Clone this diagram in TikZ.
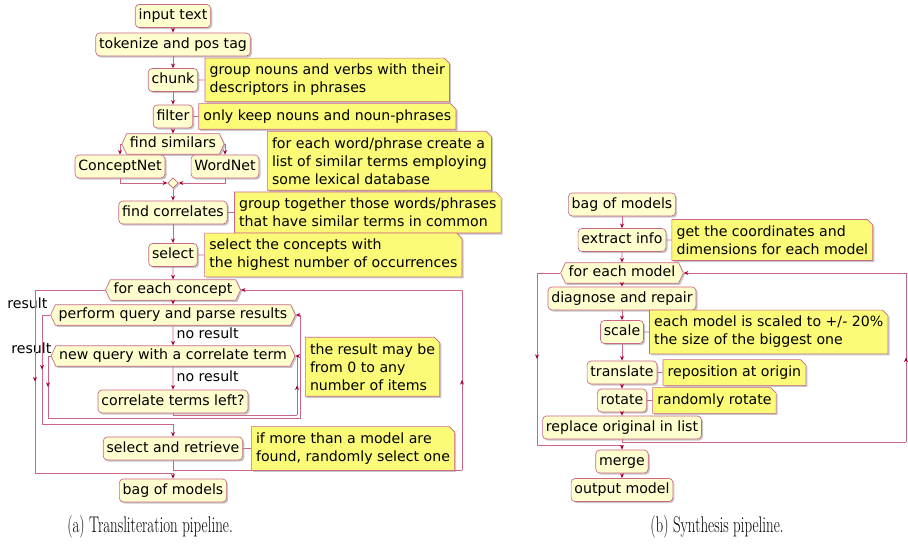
\documentclass[tikz,border=0pt]{standalone}
\usepackage{fontspec}
\usetikzlibrary{shapes.misc,shapes.symbols,shapes.geometric,shadows,positioning,arrows.meta,decorations.markings}
\newfontfamily\umlfont{DejaVu Sans}
\definecolor{umlred}{HTML}{A80036}
\definecolor{umlfill}{HTML}{FEFECE}
\definecolor{notefill}{HTML}{FBFB77}
\colorlet{umlline}{umlred!60}
\tikzset{
  umlshadow/.style={drop shadow={shadow xshift=1.2pt, shadow yshift=-1.2pt, fill=black, opacity=0.22}},
  act/.style={draw=umlline, fill=umlfill, rounded corners=3pt, line width=0.5pt,
    font=\umlfont\fontsize{10.6}{12}\selectfont, text height=8pt, text depth=2.3pt,
    inner xsep=2.5pt, inner ysep=3.5pt, umlshadow},
  hexa/.style={act, sharp corners, shape=signal, signal to=west and east,
    signal pointer angle=130, inner ysep=2.5pt},
  merge/.style={diamond, draw=umlline, fill=umlfill, line width=0.5pt, minimum size=8pt, inner sep=0pt, umlshadow},
  note/.style={chamfered rectangle, chamfered rectangle corners=north east,
    chamfered rectangle xsep=2pt, chamfered rectangle ysep=2pt,
    draw=umlline, fill=notefill, line width=0.5pt, align=left,
    font=\umlfont\fontsize{10.6}{13.5}\selectfont, inner xsep=1.5pt, inner ysep=2.5pt, umlshadow},
  lbl/.style={font=\umlfont\fontsize{10.6}{12}\selectfont, inner sep=1pt},
  flow/.style={draw=umlline, line width=0.5pt},
  arr/.style={flow, -{Stealth[length=3.5pt,width=3pt,color=umlred]}},
  midarrow/.style={flow, postaction={decorate}, decoration={markings,
    mark=at position 0.5 with {\arrow{Stealth[length=3.5pt,width=3pt,color=umlred]}}}},
  caption/.style={font=\fontsize{17}{19}\selectfont, xscale=0.66, transform shape}
}
\begin{document}
\begin{tikzpicture}[x=0.75pt, y=-0.75pt]
\useasboundingbox (0,0) rectangle (908,548);
% (a) Transliteration pipeline
\node[act] (input) at (173,16) {input text};
\node[act] (token) at (173,44.5) {tokenize and pos tag};
\node[act] (chunk) at (173,80) {chunk};
\node[note, right=5pt of chunk] (nchunk) {group nouns and verbs with their\\descriptors in phrases};
\node[act] (filter) at (173,116.5) {filter};
\node[note, right=4pt of filter] (nfilter) {only keep nouns and noun-phrases};
\node[hexa] (simil) at (173,144) {find similars};
\node[act] (cnet) at (120,166.5) {ConceptNet};
\node[act] (wnet) at (225,166.5) {WordNet};
\node[merge] (join) at (173,183) {};
\node[note, anchor=north west] (nsimil) at (267,131) {for each word/phrase create a\\list of similar terms employing\\some lexical database};
\node[act] (correl) at (173,212.5) {find correlates};
\node[note, right=5pt of correl] (ncorrel) {group together those words/phrases\\that have similar terms in common};
\node[act] (select) at (173,255) {select};
\node[note, right=5pt of select] (nselect) {select the concepts with\\the highest number of occurrences};
\node[hexa] (concept) at (173,290) {for each concept};
\node[hexa] (query) at (173,315) {perform query and parse results};
\node[hexa] (newq) at (173,356) {new query with a correlate term};
\node[act] (left) at (173,401.5) {correlate terms left?};
\node[note, anchor=north west] (nresult) at (305,337) {the result may be\\from 0 to any\\number of items};
\node[act] (retrieve) at (173,448.5) {select and retrieve};
\node[note, right=6pt of retrieve] (nretrieve) {if more than a model are\\found, randomly select one};
\node[act] (bagA) at (173,490.5) {bag of models};
\node[lbl, anchor=east] (res1) at (49,303) {result};
\node[lbl, anchor=east] (res2) at (53,348) {result};
\node[lbl, anchor=west] (nores1) at (175,333) {no result};
\node[lbl, anchor=west] (nores2) at (175,376) {no result};

\draw[arr] (input) -- (token);
\draw[arr] (token) -- (chunk);
\draw[arr] (chunk) -- (filter);
\draw[arr] (filter) -- (simil);
\draw[arr] (simil.west) -| (cnet.north);
\draw[arr] (simil.east) -| (wnet.north);
\draw[arr] (cnet.south) |- (join.west);
\draw[arr] (wnet.south) |- (join.east);
\draw[arr] (join) -- (correl);
\draw[arr] (correl) -- (select);
\draw[arr] (select) -- (concept);
\draw[arr] (concept) -- (query);
\draw[arr] (query) -- (newq);
\draw[arr] (newq) -- (left);
\draw[flow] (chunk) -- (nchunk);
\draw[flow] (filter) -- (nfilter);
\draw[flow] (correl) -- (ncorrel);
\draw[flow] (select) -- (nselect);
\draw[flow] (retrieve) -- (nretrieve);
% loops
\coordinate (oL1) at (35,290);
\coordinate (oL2) at (35,473);
\coordinate (oR1) at (462,470);
\coordinate (oR2) at (462,290);
\draw[flow] (concept.west) -- (oL1);
\draw[midarrow] (oL1) -- (oL2);
\draw[arr] (oL2) -| (bagA.north);
\draw[flow] (retrieve.south) |- (oR1);
\draw[midarrow] (oR1) -- (oR2);
\draw[arr] (oR2) -- (concept.east);
\coordinate (qL1) at (42,315);
\coordinate (qL2) at (42,424);
\draw[flow] (query.west) -- (qL1);
\draw[midarrow] (qL1) -- (qL2);
\draw[arr] (qL2) -| (retrieve.north);
\coordinate (nL1) at (48,356);
\coordinate (nL2) at (48,418);
\coordinate (nR1) at (300,418);
\coordinate (nR2) at (300,315);
\draw[flow] (newq.west) -- (nL1);
\draw[midarrow] (nL1) -- (nL2);
\draw[flow] (nL2) -- (nR1) -- (nR2);
\draw[arr] (nR2) -- (query.east);
\coordinate (lR1) at (297,415);
\coordinate (lR2) at (297,356);
\draw[flow] (left.south) |- (lR1);
\draw[midarrow] (lR1) -- (lR2);
\draw[arr] (lR2) -- (newq.east);

% (b) Synthesis pipeline
\node[act] (bagB) at (622,204.5) {bag of models};
\node[act] (extract) at (622,240) {extract info};
\node[note, right=4pt of extract] (nextract) {get the coordinates and\\dimensions for each model};
\node[hexa] (model) at (622,273) {for each model};
\node[act] (repair) at (622,298.5) {diagnose and repair};
\node[act] (scale) at (622,332) {scale};
\node[note, right=4pt of scale] (nscale) {each model is scaled to +/- 20\%\\the size of the biggest one};
\node[act] (transl) at (622,372.5) {translate};
\node[note, right=4pt of transl] (ntransl) {reposition at origin};
\node[act] (rotate) at (622,400.5) {rotate};
\node[note, right=4pt of rotate] (nrotate) {randomly rotate};
\node[act] (replace) at (622,427.5) {replace original in list};
\node[act] (merge) at (622,461.5) {merge};
\node[act] (output) at (622,490) {output model};

\draw[arr] (bagB) -- (extract);
\draw[arr] (extract) -- (model);
\draw[arr] (model) -- (repair);
\draw[arr] (repair) -- (scale);
\draw[arr] (scale) -- (transl);
\draw[arr] (transl) -- (rotate);
\draw[arr] (rotate) -- (replace);
\draw[arr] (merge) -- (output);
\draw[flow] (extract) -- (nextract);
\draw[flow] (scale) -- (nscale);
\draw[flow] (transl) -- (ntransl);
\draw[flow] (rotate) -- (nrotate);
\coordinate (mL1) at (537,273);
\coordinate (mL2) at (537,445);
\coordinate (mR1) at (906,442);
\coordinate (mR2) at (906,273);
\draw[flow] (model.west) -- (mL1);
\draw[midarrow] (mL1) -- (mL2);
\draw[arr] (mL2) -| (merge.north);
\draw[flow] (replace.south) |- (mR1);
\draw[midarrow] (mR1) -- (mR2);
\draw[arr] (mR2) -- (model.east);

% captions
\node[caption] (capA) at (150,527) {(a) Transliteration pipeline.};
\node[caption] (capB) at (717,527) {(b) Synthesis pipeline.};
\end{tikzpicture}
\end{document}
